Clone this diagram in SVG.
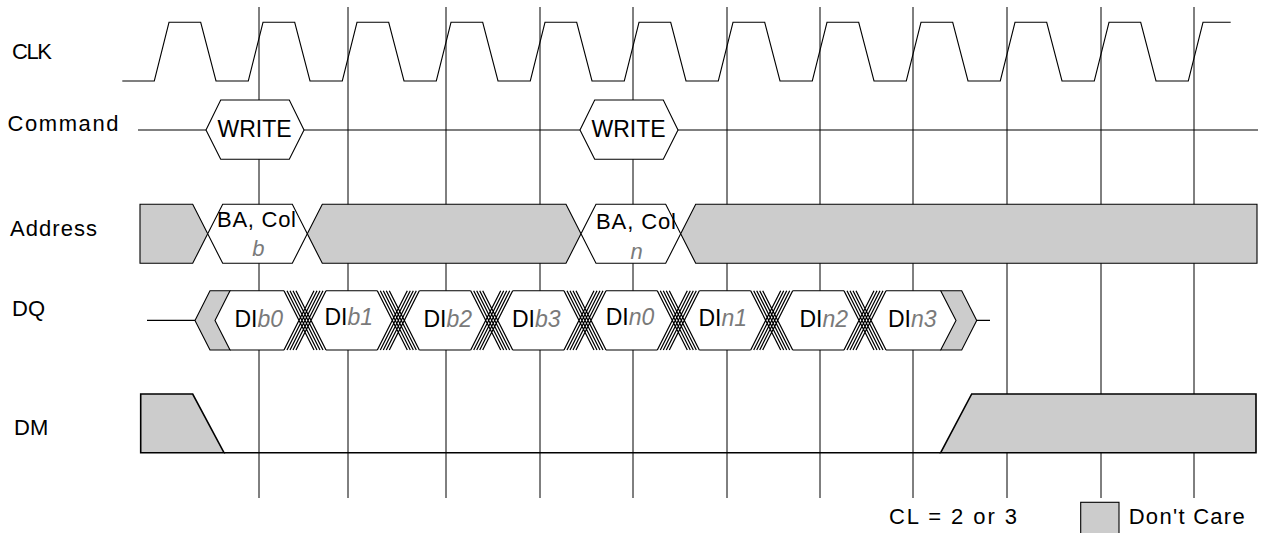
<svg xmlns="http://www.w3.org/2000/svg" width="1261" height="533" viewBox="0 0 1261 533">
<style>
text{font-family:"Liberation Sans",Arial,sans-serif;fill:#000}
.lbl{font-size:22px}
.big{font-size:23px}
.mid{font-size:22px}
.dq{font-size:23px}
.it{font-style:italic;fill:#7a7a7a}
.ln{stroke:#000;stroke-width:1.1;fill:none}
.grid{stroke:#000;stroke-width:1}
.gray{fill:#cccccc;stroke:#000;stroke-width:1.1}
.wht{fill:#fff;stroke:#000;stroke-width:1.1}
.wf{fill:#fff;stroke:none}
.dm{fill:#cccccc;stroke:#000;stroke-width:1.6}
.dml{stroke:#000;stroke-width:1.6;fill:none}
.h{stroke:#000;stroke-width:1.25;fill:none}
</style>
<rect width="1261" height="533" fill="#fff"/>
<g id="grid">
<path class="grid" d="M259 7V498M348 7V498M446 7V498M540 7V498M633 7V498M727 7V498M820 7V498M913 7V498M1007 7V498M1101 7V498M1194 7V498"/>
</g>
<g id="clk">
<text class="lbl" x="12" y="59" textLength="40">CLK</text>
<path class="ln" d="M122.3 81H154.3L169 22.3H200.7L216 81H248.3L263 22.3H294.7L310 81H342.3L357 22.3H388.7L404 81H436.3L451 22.3H482.7L498 81H530.3L545 22.3H576.7L592 81H624.3L639 22.3H670.7L686 81H718.3L733 22.3H764.7L780 81H812.3L827 22.3H858.7L874 81H906.3L921 22.3H952.7L968 81H1000.3L1015 22.3H1046.7L1062 81H1094.3L1109 22.3H1140.7L1156 81H1188.3L1203 22.3H1230.7"/>
</g>
<g id="command">
<text class="lbl" x="7.5" y="131" textLength="111">Command</text>
<path class="ln" d="M138 130H206M304 130H580M678 130H1258"/>
<polygon class="wht" points="206,130 220.7,100 289.3,100 304,130 289.3,159.3 220.7,159.3"/>
<polygon class="wht" points="580,130 594.7,100 663.3,100 678,130 663.3,159.3 594.7,159.3"/>
<text class="big" x="254.5" y="136.7" text-anchor="middle">WRITE</text>
<text class="big" x="628.5" y="136.7" text-anchor="middle">WRITE</text>
</g>
<g id="address">
<text class="lbl" x="10" y="235.5" textLength="87">Address</text>
<polygon class="gray" points="140,204.3 192.7,204.3 207.7,233.8 192.7,263.3 140,263.3"/>
<polygon class="wht" points="207.7,233.8 222.7,204.3 292.3,204.3 307.3,233.8 292.3,263.3 222.7,263.3"/>
<polygon class="gray" points="307.3,233.8 322.3,204.3 566,204.3 581,233.8 566,263.3 322.3,263.3"/>
<polygon class="wht" points="581,233.8 596,204.3 665.7,204.3 680.7,233.8 665.7,263.3 596,263.3"/>
<polygon class="gray" points="680.7,233.8 695.7,204.3 1257,204.3 1257,263.3 695.7,263.3"/>
<text class="mid" x="217" y="226.7" textLength="79">BA, Col</text>
<text class="mid it" x="258.3" y="255.5" text-anchor="middle">b</text>
<text class="mid" x="596" y="229" textLength="80">BA, Col</text>
<text class="mid it" x="636.7" y="259" text-anchor="middle">n</text>
</g>
<g id="dq">
<text class="lbl" x="12" y="316" font-size="23">DQ</text>
<path class="ln" d="M147 320.4H195M976.7 320.4H990"/>
<polygon class="wf" points="215,320.4 230,290.7 940.7,290.7 956,320.4 940.7,350 230,350"/>
<polygon class="gray" points="195,320.4 210,290.7 230,290.7 215,320.4 230,350 210,350"/>
<polygon class="gray" points="940.7,290.7 961.7,290.7 976.7,320.4 961.7,350 940.7,350 956,320.4"/>
<path class="ln" d="M230 290.7H284M230 350H284M326 290.7H377.3M326 350H377.3M419.3 290.7H470.7M419.3 350H470.7M512.7 290.7H564M512.7 350H564M606 290.7H657.3M606 350H657.3M699.3 290.7H750.7M699.3 350H750.7M792.7 290.7H844M792.7 350H844M886 290.7H940.7M886 350H940.7"/>
<g class="h">
<path d="M284 290.7L314 350M287 290.7L317 350M290 290.7L320 350M293 290.7L323 350M296 290.7L326 350M284 350L314 290.7M287 350L317 290.7M290 350L320 290.7M293 350L323 290.7M296 350L326 290.7"/>
<path d="M377.3 290.7L407.3 350M380.3 290.7L410.3 350M383.3 290.7L413.3 350M386.3 290.7L416.3 350M389.3 290.7L419.3 350M377.3 350L407.3 290.7M380.3 350L410.3 290.7M383.3 350L413.3 290.7M386.3 350L416.3 290.7M389.3 350L419.3 290.7"/>
<path d="M470.7 290.7L500.7 350M473.7 290.7L503.7 350M476.7 290.7L506.7 350M479.7 290.7L509.7 350M482.7 290.7L512.7 350M470.7 350L500.7 290.7M473.7 350L503.7 290.7M476.7 350L506.7 290.7M479.7 350L509.7 290.7M482.7 350L512.7 290.7"/>
<path d="M564 290.7L594 350M567 290.7L597 350M570 290.7L600 350M573 290.7L603 350M576 290.7L606 350M564 350L594 290.7M567 350L597 290.7M570 350L600 290.7M573 350L603 290.7M576 350L606 290.7"/>
<path d="M657.3 290.7L687.3 350M660.3 290.7L690.3 350M663.3 290.7L693.3 350M666.3 290.7L696.3 350M669.3 290.7L699.3 350M657.3 350L687.3 290.7M660.3 350L690.3 290.7M663.3 350L693.3 290.7M666.3 350L696.3 290.7M669.3 350L699.3 290.7"/>
<path d="M750.7 290.7L780.7 350M753.7 290.7L783.7 350M756.7 290.7L786.7 350M759.7 290.7L789.7 350M762.7 290.7L792.7 350M750.7 350L780.7 290.7M753.7 350L783.7 290.7M756.7 350L786.7 290.7M759.7 350L789.7 290.7M762.7 350L792.7 290.7"/>
<path d="M844 290.7L874 350M847 290.7L877 350M850 290.7L880 350M853 290.7L883 350M856 290.7L886 350M844 350L874 290.7M847 350L877 290.7M850 350L880 290.7M853 350L883 290.7M856 350L886 290.7"/>
</g>
<text class="dq" x="258.8" y="326.7" text-anchor="middle">DI<tspan class="it">b0</tspan></text>
<text class="dq" x="348.8" y="325" text-anchor="middle">DI<tspan class="it">b1</tspan></text>
<text class="dq" x="447.8" y="326.7" text-anchor="middle">DI<tspan class="it">b2</tspan></text>
<text class="dq" x="536.3" y="326.7" text-anchor="middle">DI<tspan class="it">b3</tspan></text>
<text class="dq" x="630" y="325" text-anchor="middle">DI<tspan class="it">n0</tspan></text>
<text class="dq" x="722.7" y="326" text-anchor="middle">DI<tspan class="it">n1</tspan></text>
<text class="dq" x="823.7" y="327.3" text-anchor="middle">DI<tspan class="it">n2</tspan></text>
<text class="dq" x="912.2" y="327.3" text-anchor="middle">DI<tspan class="it">n3</tspan></text>
</g>
<g id="dm">
<text class="lbl" x="14" y="435" font-size="23">DM</text>
<polygon class="dm" points="140.7,394 192.7,394 224,452.7 140.7,452.7"/>
<path class="dml" d="M224 452.7H940.7"/>
<polygon class="dm" points="940.7,452.7 971.7,394 1256,394 1256,452.7"/>
</g>
<g id="legend">
<text class="lbl" x="889" y="524" font-size="23" textLength="128">CL = 2 or 3</text>
<rect class="gray" x="1080.7" y="502.3" width="38.3" height="40"/>
<text class="lbl" x="1128.7" y="524" font-size="23" textLength="116">Don't Care</text>
</g>
</svg>
